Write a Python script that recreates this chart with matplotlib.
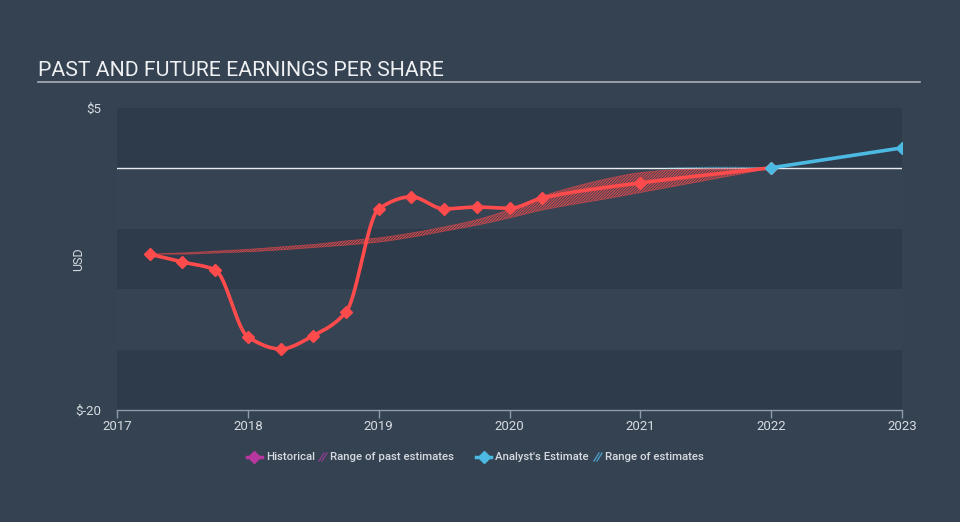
import numpy as np
import matplotlib
matplotlib.use("Agg")
import matplotlib.pyplot as plt
from matplotlib.lines import Line2D

plt.rcParams['font.family'] = ['Roboto', 'DejaVu Sans']

# historical EPS (red), years as decimals
hist_x = [2017.25, 2017.5, 2017.75, 2018.0, 2018.25, 2018.5, 2018.75, 2019.0,
          2019.25, 2019.5, 2019.75, 2020.0, 2020.25, 2021.0, 2022.0]
hist_y = [-7.1, -7.75, -8.4, -13.95, -14.95, -13.85, -11.9, -3.35,
          -2.35, -3.35, -3.2, -3.3, -2.45, -1.2, 0.05]

# analyst estimate (blue)
est_x = [2022.0, 2023.0]
est_y = [0.05, 1.7]

# range of past estimates (red hatch)
past_x = [2017.25, 2017.5, 2017.75, 2018.0, 2018.25, 2018.5, 2018.75, 2019.0, 2019.25,
          2019.5, 2019.75, 2020.0, 2020.25, 2020.5, 2020.75, 2021.0, 2021.25, 2021.5,
          2021.75, 2022.0]
past_hi = [-7.1, -7.0, -6.85, -6.7, -6.5, -6.3, -6.0, -5.75, -5.35, -4.85, -4.25, -3.4,
           -2.3, -1.5, -0.85, -0.35, -0.12, -0.02, 0.02, 0.05]
past_lo = [-7.1, -7.1, -7.0, -6.9, -6.75, -6.55, -6.35, -6.1, -5.7, -5.2, -4.7, -4.1,
           -3.45, -2.95, -2.5, -2.0, -1.5, -1.0, -0.5, 0.05]

# range of estimates (blue hatch)
rng_x = [2021.2, 2021.6, 2022.0]
rng_hi = [0.05, 0.14, 0.1]
rng_lo = [0.0, 0.0, 0.05]

years = [2017, 2018, 2019, 2020, 2021, 2022, 2023]

RED = '#ff4b4b'
BLUE = '#4cb9e2'
BG = '#344252'
TXT = '#d6dbe0'


def monotone(x, y, n=40):
    # monotone cubic curve through the points (like d3 curveMonotoneX)
    x = np.asarray(x, float)
    y = np.asarray(y, float)
    h = np.diff(x)
    d = np.diff(y) / h
    m = np.zeros_like(y)
    m[0], m[-1] = d[0], d[-1]
    for k in range(1, len(x) - 1):
        if d[k - 1] * d[k] <= 0:
            m[k] = 0
        else:
            w1 = 2 * h[k] + h[k - 1]
            w2 = h[k] + 2 * h[k - 1]
            m[k] = (w1 + w2) / (w1 / d[k - 1] + w2 / d[k])
    xs, ys = [], []
    for k in range(len(x) - 1):
        t = np.linspace(0, 1, n)
        h00 = 2 * t**3 - 3 * t**2 + 1
        h10 = t**3 - 2 * t**2 + t
        h01 = -2 * t**3 + 3 * t**2
        h11 = t**3 - t**2
        xs.append(x[k] + t * h[k])
        ys.append(h00 * y[k] + h10 * h[k] * m[k] + h01 * y[k + 1] + h11 * h[k] * m[k + 1])
    return np.concatenate(xs), np.concatenate(ys)


fig = plt.figure(figsize=(9.6, 5.22), dpi=100)
fig.patch.set_facecolor(BG)
ax = fig.add_axes([117 / 960, 1 - 410 / 522, 785 / 960, 302 / 522])
ax.set_facecolor(BG)
ax.set_xlim(2017, 2023)
ax.set_ylim(-20, 5)

# alternating horizontal bands
for i, lo in enumerate(range(-20, 5, 5)):
    c = '#2e3b4a' if i % 2 == 0 else '#354353'
    ax.axhspan(lo, lo + 5, color=c, zorder=0, lw=0)
ax.axhline(0, color='#e8ecef', lw=1, zorder=1)

plt.rcParams['hatch.linewidth'] = 0.8
sx, shi = monotone(past_x, past_hi)
_, slo = monotone(past_x, past_lo)
ax.fill_between(sx, slo, shi, facecolor='none', edgecolor=RED, hatch='////////////',
                lw=0, alpha=0.8, zorder=2)
ax.plot(sx, shi, color=RED, lw=0.6, alpha=0.5, zorder=2)
ax.plot(sx, slo, color=RED, lw=0.6, alpha=0.5, zorder=2)
bx, bhi = monotone(rng_x, rng_hi)
_, blo = monotone(rng_x, rng_lo)
ax.fill_between(bx, blo, bhi, facecolor='none', edgecolor=BLUE, hatch='////////////',
                lw=0, alpha=0.8, zorder=2)

hx, hy = monotone(hist_x, hist_y)
ax.plot(hx, hy, color=RED, lw=2.6, zorder=3, solid_capstyle='round')
ax.plot(hist_x, hist_y, ls='none', marker='D', ms=6, color=RED, zorder=4)
ax.plot(est_x, est_y, color=BLUE, lw=2.6, marker='D', ms=6, zorder=5)

# axes styling
for s in ['top', 'right', 'left']:
    ax.spines[s].set_visible(False)
ax.spines['bottom'].set_color('#8d9cab')
ax.spines['bottom'].set_linewidth(1)
ax.set_xticks(years)
ax.set_xticklabels([str(y) for y in years])
ax.tick_params(axis='x', colors='#8d9cab', length=6, width=1, labelcolor=TXT,
               labelsize=9.5, pad=1)
ax.set_yticks([-20, 5])
ax.set_yticklabels(['$-20', '$5'])
ax.tick_params(axis='y', length=0, labelcolor=TXT, labelsize=9.5, pad=11)
ax.set_ylabel('USD', color=TXT, fontsize=9)
ax.yaxis.set_label_coords(-0.04, 0.5)

# title and underline
fig.text(38 / 960, 1 - 70 / 522, 'PAST AND FUTURE EARNINGS PER SHARE', color='#eef0f2',
         fontsize=15.3, va='center', ha='left')
fig.add_artist(Line2D([38 / 960, 920 / 960], [1 - 82 / 522] * 2, color='#a9b1ba', lw=1.2))

# legend
ly = 1 - 457 / 522
fs = 8.2


def slashes(x0, color):
    for dx in (0, 3):
        fig.add_artist(Line2D([(x0 + dx) / 960, (x0 + dx + 5) / 960],
                              [ly - 4 / 522, ly + 4 / 522], color=color, lw=1))


fig.add_artist(Line2D([247 / 960, 262 / 960], [ly, ly], color='#b8379e', lw=2.5))
fig.add_artist(Line2D([254.5 / 960], [ly], color='#b8379e', marker='D', ms=6, lw=0))
fig.text(266 / 960, ly, 'Historical', color=TXT, fontsize=fs, va='center',
         fontweight='medium')
slashes(319, '#8a3f8c')
fig.text(330 / 960, ly, 'Range of past estimates', color=TXT, fontsize=fs, va='center',
         fontweight='medium')
fig.add_artist(Line2D([476 / 960, 491 / 960], [ly, ly], color=BLUE, lw=2.5))
fig.add_artist(Line2D([483.5 / 960], [ly], color=BLUE, marker='D', ms=6, lw=0))
fig.text(495 / 960, ly, "Analyst's Estimate", color=TXT, fontsize=fs, va='center',
         fontweight='medium')
slashes(594, '#4a9cc4')
fig.text(605 / 960, ly, 'Range of estimates', color=TXT, fontsize=fs, va='center',
         fontweight='medium')

fig.savefig('out.png', dpi=100, facecolor=BG)
